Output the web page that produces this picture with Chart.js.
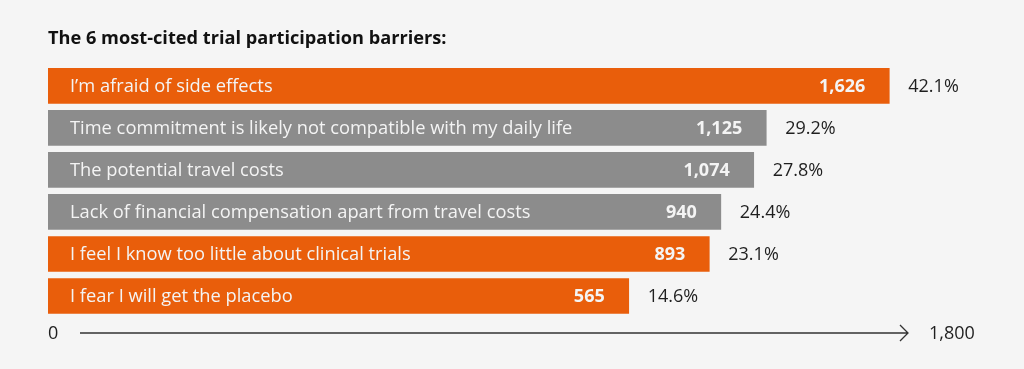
<!DOCTYPE html>
<html>
<head>
<meta charset="utf-8">
<script src="https://cdn.jsdelivr.net/npm/chart.js@4.4.1/dist/chart.umd.min.js"></script>
<style>
    html, body { margin: 0; padding: 0; background: #f5f5f5; }
    #wrap { width: 1024px; height: 369px; }
</style>
</head>
<body>
<div id="wrap"><canvas id="barriersChart" width="1024" height="369"></canvas></div>
<script>
// barrier categories, top to bottom
const barriers = [
    'I\u2019m afraid of side effects',
    'Time commitment is likely not compatible with my daily life',
    'The potential travel costs',
    'Lack of financial compensation apart from travel costs',
    'I feel I know too little about clinical trials',
    'I fear I will get the placebo'
];
const counts = [1626, 1125, 1074, 940, 893, 565];
const percents = [42.1, 29.2, 27.8, 24.4, 23.1, 14.6];
const highlighted = [true, false, false, false, true, true];
const axisTicks = ['0', '1,800'];
const axisMax = 1800;

const ORANGE = '#e95e0b';
const GREY = '#8c8c8c';
const FONT = "'Open Sans', 'Noto Sans', sans-serif";

// room in front of the value part of each bar, in value units (the label strip)
const labelRoom = 1800;

// text on and beside the bars
const barText = {
    id: 'barText',
    afterDatasetsDraw(chart) {
        const ctx = chart.ctx;
        const meta = chart.getDatasetMeta(0);
        ctx.save();
        ctx.textBaseline = 'middle';
        meta.data.forEach((bar, i) => {
            const left = Math.min(bar.x, bar.base);
            const right = Math.max(bar.x, bar.base);
            const y = bar.y + 1;
            ctx.fillStyle = '#f4f4f4';
            ctx.font = '18.3px ' + FONT;
            ctx.textAlign = 'left';
            ctx.fillText(barriers[i], left + 22, y);

            ctx.font = 'bold 18px ' + FONT;
            ctx.textAlign = 'right';
            ctx.fillText(counts[i].toLocaleString('en-US'), right - 24, y);

            ctx.fillStyle = '#1f1f1f';
            ctx.font = '18px ' + FONT;
            ctx.textAlign = 'left';
            ctx.fillText(percents[i].toFixed(1) + '%', right + 19, y);
        });
        ctx.restore();
    }
};

// the arrow axis underneath
const arrowAxis = {
    id: 'arrowAxis',
    afterDraw(chart) {
        const ctx = chart.ctx;
        const area = chart.chartArea;
        const y = area.bottom + 16;
        const x0 = 80, x1 = 908;
        ctx.save();
        ctx.strokeStyle = '#333';
        ctx.lineWidth = 1.3;
        ctx.beginPath();
        ctx.moveTo(x0, y);
        ctx.lineTo(x1, y);
        ctx.moveTo(x1 - 8, y - 8);
        ctx.lineTo(x1, y);
        ctx.lineTo(x1 - 8, y + 8);
        ctx.stroke();

        ctx.fillStyle = '#1f1f1f';
        ctx.font = '18px ' + FONT;
        ctx.textBaseline = 'middle';
        ctx.textAlign = 'left';
        ctx.fillText(axisTicks[0], area.left, y + 1);
        ctx.fillText(axisTicks[1], 929, y + 1);
        ctx.restore();
    }
};

new Chart(document.getElementById('barriersChart').getContext('2d'), {
    type: 'bar',
    data: {
        labels: barriers,
        datasets: [{
            data: counts.map(c => [-labelRoom, c]),
            backgroundColor: highlighted.map(h => h ? ORANGE : GREY),
            borderWidth: 0,
            borderSkipped: false,
            barThickness: 35
        }]
    },
    options: {
        indexAxis: 'y',
        responsive: false,
        animation: false,
        layout: {
            padding: { top: 28, left: 48, right: 92, bottom: 52 }
        },
        scales: {
            x: { display: false, min: -labelRoom, max: axisMax },
            y: { display: false }
        },
        plugins: {
            legend: { display: false },
            tooltip: { enabled: false },
            title: {
                display: true,
                text: 'The 6 most-cited trial participation barriers:',
                align: 'start',
                color: '#111',
                font: { family: FONT, size: 18.2, weight: 'bold' },
                padding: { top: 0, bottom: 15 }
            }
        }
    },
    plugins: [barText, arrowAxis]
});
</script>
</body>
</html>
